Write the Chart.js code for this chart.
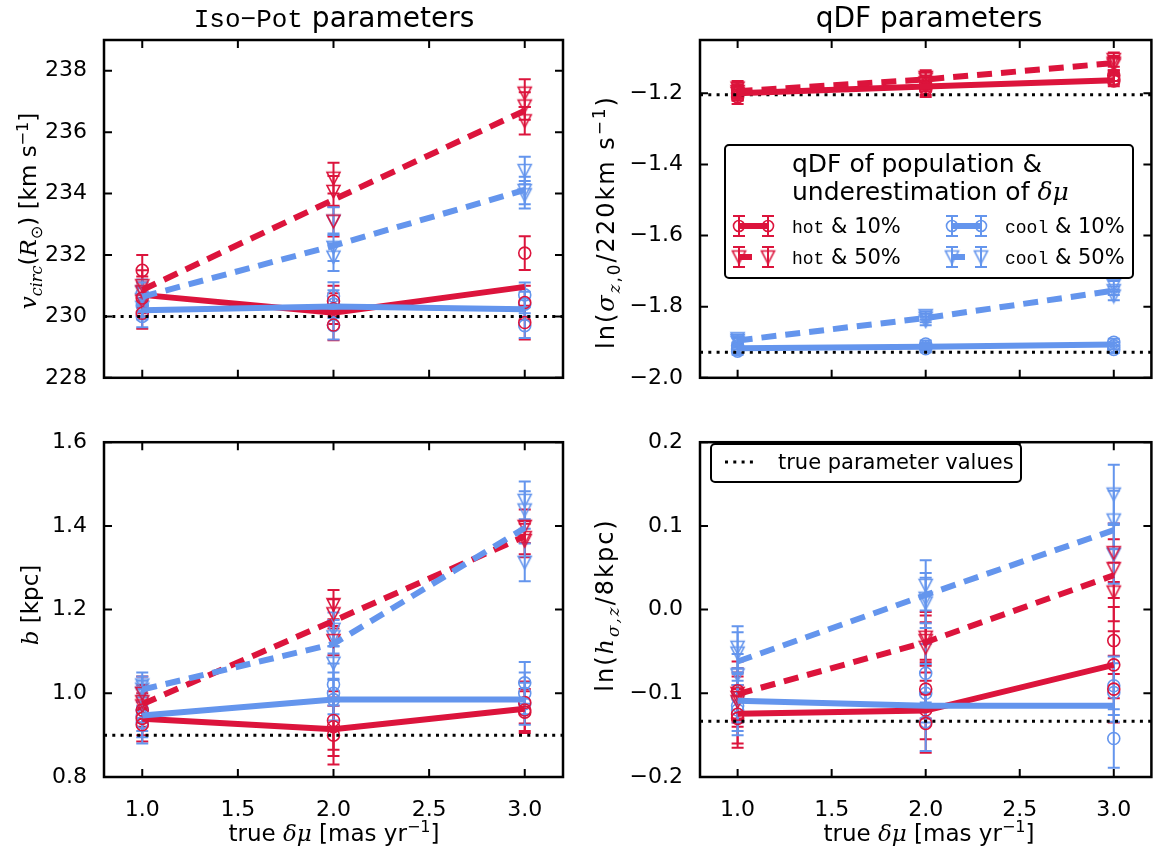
<!DOCTYPE html>
<html>
<head>
<meta charset="utf-8">
<script src="https://cdn.jsdelivr.net/npm/chart.js@4"></script>
<style>
  body { margin: 0; background: #fff; }
  #fig { position: relative; width: 1159px; height: 850px; font-family: "DejaVu Sans"; color: #000; }
  canvas { position: absolute; }
  .txt { position: absolute; white-space: nowrap; font-size: 23px; line-height: 1; }
  .rot { transform: translate(-50%, -50%) rotate(-90deg); }
  .ctr { transform: translate(-50%, -50%); }
  .lft { transform: translate(0, -50%); }
  .mono { font-family: "Liberation Mono"; }
  .m { font-family: "DejaVu Serif"; font-style: italic; }
  .leg { font-size: 21px; }
  .leg .mono { font-size: 18px; }
  .ln { font-size: 24px; letter-spacing: 2px; }
  sub, sup { font-size: 70%; }
</style>
</head>
<body>
<div id="fig">
  <canvas id="cVcirc" width="580" height="400" style="left:0;top:0"></canvas>
  <canvas id="cSigma" width="569" height="400" style="left:590px;top:0"></canvas>
  <canvas id="cB" width="580" height="430" style="left:0;top:420px"></canvas>
  <canvas id="cH" width="569" height="430" style="left:590px;top:420px"></canvas>

  <div class="txt ctr" style="left:334px;top:18px;font-size:28px"><span class="mono" style="font-size:26px">Iso−Pot</span> parameters</div>
  <div class="txt ctr" style="left:929px;top:18px;font-size:28px">qDF parameters</div>

  <div class="txt rot" style="left:30px;top:211px"><span class="m">v</span><sub><span class="m">circ</span></sub>(<span class="m">R</span><sub>⊙</sub>) [km s<sup>−1</sup>]</div>
  <div class="txt rot ln" style="left:607px;top:222px">ln(<span class="m">σ</span><sub><span class="m">z</span>,0</sub>/220km s<sup>−1</sup>)</div>
  <div class="txt rot" style="left:30px;top:605px"><span class="m">b</span> [kpc]</div>
  <div class="txt rot ln" style="left:607px;top:605px">ln(<span class="m">h</span><sub><span class="m">σ,z</span></sub>/8kpc)</div>

  <div class="txt ctr" style="left:334px;top:832px">true <span class="m">δμ</span> [mas yr<sup>−1</sup>]</div>
  <div class="txt ctr" style="left:929px;top:832px">true <span class="m">δμ</span> [mas yr<sup>−1</sup>]</div>

  <!-- legend texts -->
  <div class="txt lft" style="left:792px;top:163px;font-size:25px">qDF of population &amp;</div>
  <div class="txt lft" style="left:792px;top:191px;font-size:25px">underestimation of <span class="m">δμ</span></div>
  <div class="txt lft leg" style="left:792px;top:226px"><span class="mono">hot</span> &amp; 10%</div>
  <div class="txt lft leg" style="left:792px;top:257px"><span class="mono">hot</span> &amp; 50%</div>
  <div class="txt lft leg" style="left:1005px;top:226px"><span class="mono">cool</span> &amp; 10%</div>
  <div class="txt lft leg" style="left:1005px;top:257px"><span class="mono">cool</span> &amp; 50%</div>
  <div class="txt lft leg" style="left:778px;top:462px">true parameter values</div>
</div>

<script>
// x 값 (true delta mu)
const xVals = [1.0, 2.0, 3.0];
const xTicks = [1.0, 1.5, 2.0, 2.5, 3.0];

// v_circ(R_sun) 패널
const vcircTicks = [228, 230, 232, 234, 236, 238];
const vcircTrue = [230];
const vcircHot10 = [230.7, 230.12, 230.96];
const vcircCool10 = [230.2, 230.32, 230.23];
const vcircHot50 = [230.86, 233.8, 236.7];
const vcircCool50 = [230.64, 232.3, 234.12];
const vcircHot10Pts = [[231.5, 230.6, 230.1], [229.72, 230.25, 230.5], [232.06, 230.45, 229.8]];
const vcircCool10Pts = [[230.75, 230.35, 230.0], [230.66, 229.7, 230.4], [230.7, 230.4, 229.7]];
const vcircHot50Pts = [[231.0, 230.8, 230.5], [234.5, 234.07, 233.1], [237.27, 236.85, 236.37]];
const vcircCool50Pts = [[230.8, 230.55, 230.3], [233.1, 232.25, 231.93], [234.75, 233.96, 234.1]];
const vcircHot10Err = [0.5, 0.5, 0.55];
const vcircCool10Err = [0.35, 0.45, 0.4];
const vcircHot50Err = [0.5, 0.5, 0.45];
const vcircCool50Err = [0.4, 0.45, 0.45];

// ln(sigma_z,0 / 220) 패널
const sigmaTicks = [-2.0, -1.8, -1.6, -1.4, -1.2];
const sigmaTrue = [-1.204, -1.928];
const sigmaHot10 = [-1.2, -1.181, -1.163];
const sigmaCool10 = [-1.917, -1.913, -1.906];
const sigmaHot50 = [-1.194, -1.161, -1.115];
const sigmaCool50 = [-1.895, -1.832, -1.755];
const sigmaHot10Pts = [[-1.19, -1.2, -1.21], [-1.175, -1.185, -1.19], [-1.15, -1.16, -1.165]];
const sigmaCool10Pts = [[-1.91, -1.92, -1.925], [-1.905, -1.912, -1.918], [-1.9, -1.91, -1.92]];
const sigmaHot50Pts = [[-1.185, -1.195, -1.2], [-1.155, -1.16, -1.17], [-1.105, -1.115, -1.12]];
const sigmaCool50Pts = [[-1.89, -1.895, -1.9], [-1.825, -1.832, -1.84], [-1.74, -1.755, -1.77]];
const sigmaHot10Err = [0.02, 0.02, 0.015];
const sigmaCool10Err = [0.01, 0.01, 0.01];
const sigmaHot50Err = [0.02, 0.02, 0.02];
const sigmaCool50Err = [0.012, 0.012, 0.012];

// b 패널
const bTicks = [0.8, 1.0, 1.2, 1.4, 1.6];
const bTrue = [0.9];
const bHot10 = [0.939, 0.914, 0.963];
const bCool10 = [0.947, 0.985, 0.985];
const bHot50 = [0.974, 1.173, 1.375];
const bCool50 = [1.009, 1.118, 1.395];
const bHot10Pts = [[0.96, 0.94, 0.925], [0.935, 0.92, 0.9], [0.978, 0.955, 0.96]];
const bCool10Pts = [[0.96, 0.945, 0.93], [1.021, 1.0, 0.985], [1.025, 1.0, 0.975]];
const bHot50Pts = [[1.0, 0.98, 0.97], [1.212, 1.19, 1.126], [1.399, 1.372, 1.365]];
const bCool50Pts = [[1.02, 1.01, 1.0], [1.153, 1.135, 1.072], [1.461, 1.438, 1.313]];
const bHot10Err = [0.04, 0.07, 0.05];
const bCool10Err = [0.05, 0.05, 0.05];
const bHot50Err = [0.04, 0.035, 0.04];
const bCool50Err = [0.03, 0.04, 0.045];

// ln(h_sigma,z / 8kpc) 패널
const hTicks = [-0.2, -0.1, 0.0, 0.1, 0.2];
const hTrue = [-0.1335];
const hHot10 = [-0.1245, -0.1206, -0.066];
const hCool10 = [-0.109, -0.115, -0.115];
const hHot50 = [-0.101, -0.039, 0.041];
const hCool50 = [-0.062, 0.0175, 0.095];
const hHot10Pts = [[-0.097, -0.13, -0.125], [-0.095, -0.136, -0.12], [-0.037, -0.066, -0.095]];
const hCool10Pts = [[-0.105, -0.115, -0.12], [-0.076, -0.134, -0.1], [-0.091, -0.099, -0.154]];
const hHot50Pts = [[-0.1, -0.105, -0.11], [-0.033, -0.037, -0.045], [0.068, 0.049, 0.021]];
const hCool50Pts = [[-0.045, -0.052, -0.078], [0.029, 0.0136, 0.008], [0.138, 0.107, 0.066]];
const hHot10Err = [0.035, 0.035, 0.04];
const hCool10Err = [0.03, 0.035, 0.035];
const hHot50Err = [0.03, 0.03, 0.035];
const hCool50Err = [0.025, 0.03, 0.035];

const RED = "#DC143C";
const BLUE = "#6495ED";
const FONT = "DejaVu Sans";

// 아래쪽 삼각형 마커 (matplotlib 'v' 모양)
function triMarker(color) {
  const c = document.createElement("canvas");
  c.width = 17;
  c.height = 17;
  const g = c.getContext("2d");
  g.strokeStyle = color;
  g.lineWidth = 1.6;
  g.beginPath();
  g.moveTo(2, 2.5);
  g.lineTo(15, 2.5);
  g.lineTo(8.5, 15);
  g.closePath();
  g.stroke();
  return c;
}
const triRed = triMarker(RED);
const triBlue = triMarker(BLUE);

function fmt(v, d) {
  const s = Number(v).toFixed(d);
  return s.replace("-", "\u2212");
}

// 라인 데이터셋
function lineSet(vals, color, dashed) {
  return {
    data: xVals.map((x, i) => ({ x: x, y: vals[i] })),
    showLine: true,
    borderColor: color,
    borderWidth: 6,
    borderDash: dashed ? [15, 9] : [],
    borderCapStyle: "butt",
    pointRadius: 0,
    fill: false,
    order: 0,
  };
}

// 개별 결과 마커 + 오차 막대
function pointSet(pts, errs, color, tri) {
  const data = [];
  const e = [];
  pts.forEach((col, i) => {
    col.forEach((v) => {
      data.push({ x: xVals[i], y: v });
      e.push(errs[i]);
    });
  });
  return {
    data: data,
    errs: e,
    showLine: false,
    borderColor: color,
    backgroundColor: "rgba(0,0,0,0)",
    borderWidth: 1.6,
    pointStyle: tri ? (color === RED ? triRed : triBlue) : "circle",
    pointRadius: 6,
    order: 2,
  };
}

function trueSet(v) {
  return {
    data: [{ x: 0.8, y: v }, { x: 3.2, y: v }],
    showLine: true,
    borderColor: "#000",
    borderWidth: 3,
    borderDash: [3, 5.3],
    borderCapStyle: "butt",
    pointRadius: 0,
    order: 1,
  };
}

// 오차 막대
const errorBars = {
  id: "errorBars",
  beforeDatasetsDraw(chart) {
    const ctx = chart.ctx;
    const ys = chart.scales.y;
    ctx.save();
    chart.data.datasets.forEach((ds, di) => {
      if (!ds.errs) return;
      const meta = chart.getDatasetMeta(di);
      ctx.strokeStyle = ds.borderColor;
      ctx.lineWidth = 2;
      meta.data.forEach((pt, i) => {
        const v = ds.data[i].y;
        const top = ys.getPixelForValue(v + ds.errs[i]);
        const bot = ys.getPixelForValue(v - ds.errs[i]);
        ctx.beginPath();
        ctx.moveTo(pt.x, top);
        ctx.lineTo(pt.x, bot);
        ctx.moveTo(pt.x - 6, top);
        ctx.lineTo(pt.x + 6, top);
        ctx.moveTo(pt.x - 6, bot);
        ctx.lineTo(pt.x + 6, bot);
        ctx.stroke();
      });
    });
    ctx.restore();
  },
};

// 테두리 및 안쪽 눈금
const frame = {
  id: "frame",
  afterDraw(chart) {
    const ctx = chart.ctx;
    const a = chart.chartArea;
    ctx.save();
    ctx.strokeStyle = "#000";
    ctx.lineWidth = 2;
    chart.scales.x.ticks.forEach((t) => {
      const px = chart.scales.x.getPixelForValue(t.value);
      ctx.beginPath();
      ctx.moveTo(px, a.bottom);
      ctx.lineTo(px, a.bottom - 8);
      ctx.moveTo(px, a.top);
      ctx.lineTo(px, a.top + 8);
      ctx.stroke();
    });
    chart.scales.y.ticks.forEach((t) => {
      const py = chart.scales.y.getPixelForValue(t.value);
      ctx.beginPath();
      ctx.moveTo(a.left, py);
      ctx.lineTo(a.left + 8, py);
      ctx.moveTo(a.right, py);
      ctx.lineTo(a.right - 8, py);
      ctx.stroke();
    });
    ctx.lineWidth = 2.5;
    ctx.strokeRect(a.left, a.top, a.right - a.left, a.bottom - a.top);
    ctx.restore();
  },
};

function handle(ctx, x1, x2, y, color, tri) {
  ctx.strokeStyle = color;
  ctx.lineWidth = 2;
  [x1, x2].forEach((x) => {
    ctx.beginPath();
    ctx.moveTo(x, y - 10);
    ctx.lineTo(x, y + 10);
    ctx.moveTo(x - 6, y - 10);
    ctx.lineTo(x + 6, y - 10);
    ctx.moveTo(x - 6, y + 10);
    ctx.lineTo(x + 6, y + 10);
    ctx.stroke();
  });
  ctx.lineWidth = 6;
  ctx.lineCap = "butt";
  ctx.beginPath();
  ctx.moveTo(x1, y);
  ctx.lineTo(tri ? x1 + 13 : x2, y);
  ctx.stroke();
  ctx.lineWidth = 1.6;
  [x1, x2].forEach((x) => {
    if (tri) {
      ctx.drawImage(color === RED ? triRed : triBlue, x - 8.5, y - 8.5);
    } else {
      ctx.beginPath();
      ctx.arc(x, y, 5.5, 0, Math.PI * 2);
      ctx.stroke();
    }
  });
}

function roundBox(ctx, x, y, w, h) {
  ctx.save();
  ctx.fillStyle = "#fff";
  ctx.strokeStyle = "#000";
  ctx.lineWidth = 2;
  ctx.beginPath();
  ctx.roundRect(x, y, w, h, 4);
  ctx.fill();
  ctx.stroke();
  ctx.restore();
}

// qDF 범례 (오른쪽 위)
const qdfLegend = {
  id: "qdfLegend",
  afterDraw(chart) {
    const ctx = chart.ctx;
    ctx.save();
    ctx.translate(-590, 0);
    roundBox(ctx, 725, 145, 408, 133);
    handle(ctx, 739, 768, 226, RED, false);
    handle(ctx, 739, 768, 257, RED, true);
    handle(ctx, 952, 981, 226, BLUE, false);
    handle(ctx, 952, 981, 257, BLUE, true);
    ctx.restore();
  },
};

// 참값 범례 (오른쪽 아래)
const trueLegend = {
  id: "trueLegend",
  afterDraw(chart) {
    const ctx = chart.ctx;
    ctx.save();
    ctx.translate(-590, -420);
    roundBox(ctx, 711, 444, 310, 38);
    ctx.strokeStyle = "#000";
    ctx.lineWidth = 3;
    ctx.setLineDash([3, 5.3]);
    ctx.beginPath();
    ctx.moveTo(725, 462);
    ctx.lineTo(755, 462);
    ctx.stroke();
    ctx.restore();
  },
};

function makePanel(id, cfg) {
  const datasets = [
    pointSet(cfg.hot10Pts, cfg.hot10Err, RED, false),
    pointSet(cfg.hot50Pts, cfg.hot50Err, RED, true),
    pointSet(cfg.cool10Pts, cfg.cool10Err, BLUE, false),
    pointSet(cfg.cool50Pts, cfg.cool50Err, BLUE, true),
  ];
  cfg.trueVals.forEach((v) => datasets.push(trueSet(v)));
  datasets.push(lineSet(cfg.cool50, BLUE, true));
  datasets.push(lineSet(cfg.hot50, RED, true));
  datasets.push(lineSet(cfg.cool10, BLUE, false));
  datasets.push(lineSet(cfg.hot10, RED, false));

  return new Chart(document.getElementById(id), {
    type: "scatter",
    data: { datasets: datasets },
    plugins: [errorBars, frame].concat(cfg.extra || []),
    options: {
      responsive: false,
      animation: false,
      events: [],
      layout: { padding: { top: cfg.padTop, right: cfg.padRight, left: 0, bottom: 0 } },
      plugins: { legend: { display: false }, tooltip: { enabled: false } },
      scales: {
        x: {
          type: "linear",
          min: 0.8,
          max: 3.2,
          grid: { display: false },
          border: { display: false },
          afterBuildTicks: (s) => {
            s.ticks = xTicks.map((v) => ({ value: v }));
          },
          afterFit: (s) => {
            s.height = cfg.xHeight;
          },
          ticks: {
            display: cfg.showX,
            padding: 12,
            color: "#000",
            font: { family: FONT, size: 22 },
            callback: (v) => fmt(v, 1),
          },
        },
        y: {
          type: "linear",
          min: cfg.yMin,
          max: cfg.yMax,
          grid: { display: false },
          border: { display: false },
          afterBuildTicks: (s) => {
            s.ticks = cfg.yTicks.map((v) => ({ value: v }));
          },
          afterFit: (s) => {
            s.width = cfg.yWidth;
          },
          ticks: {
            padding: 9,
            color: "#000",
            font: { family: FONT, size: 22 },
            callback: (v) => fmt(v, cfg.yDec),
          },
        },
      },
    },
  });
}

makePanel("cVcirc", {
  hot10: vcircHot10, cool10: vcircCool10, hot50: vcircHot50, cool50: vcircCool50,
  hot10Pts: vcircHot10Pts, cool10Pts: vcircCool10Pts, hot50Pts: vcircHot50Pts, cool50Pts: vcircCool50Pts,
  hot10Err: vcircHot10Err, cool10Err: vcircCool10Err, hot50Err: vcircHot50Err, cool50Err: vcircCool50Err,
  trueVals: vcircTrue, yTicks: vcircTicks, yMin: 228, yMax: 239, yDec: 0,
  padTop: 40, padRight: 17, xHeight: 18, yWidth: 104, showX: false,
});

makePanel("cSigma", {
  hot10: sigmaHot10, cool10: sigmaCool10, hot50: sigmaHot50, cool50: sigmaCool50,
  hot10Pts: sigmaHot10Pts, cool10Pts: sigmaCool10Pts, hot50Pts: sigmaHot50Pts, cool50Pts: sigmaCool50Pts,
  hot10Err: sigmaHot10Err, cool10Err: sigmaCool10Err, hot50Err: sigmaHot50Err, cool50Err: sigmaCool50Err,
  trueVals: sigmaTrue, yTicks: sigmaTicks, yMin: -2.0, yMax: -1.05, yDec: 1,
  padTop: 40, padRight: 1, xHeight: 18, yWidth: 110, showX: false,
  extra: [qdfLegend],
});

makePanel("cB", {
  hot10: bHot10, cool10: bCool10, hot50: bHot50, cool50: bCool50,
  hot10Pts: bHot10Pts, cool10Pts: bCool10Pts, hot50Pts: bHot50Pts, cool50Pts: bCool50Pts,
  hot10Err: bHot10Err, cool10Err: bCool10Err, hot50Err: bHot50Err, cool50Err: bCool50Err,
  trueVals: bTrue, yTicks: bTicks, yMin: 0.8, yMax: 1.6, yDec: 1,
  padTop: 14, padRight: 17, xHeight: 73, yWidth: 104, showX: true,
});

makePanel("cH", {
  hot10: hHot10, cool10: hCool10, hot50: hHot50, cool50: hCool50,
  hot10Pts: hHot10Pts, cool10Pts: hCool10Pts, hot50Pts: hHot50Pts, cool50Pts: hCool50Pts,
  hot10Err: hHot10Err, cool10Err: hCool10Err, hot50Err: hHot50Err, cool50Err: hCool50Err,
  trueVals: hTrue, yTicks: hTicks, yMin: -0.2, yMax: 0.2, yDec: 1,
  padTop: 14, padRight: 1, xHeight: 73, yWidth: 110, showX: true,
  extra: [trueLegend],
});
</script>
</body>
</html>
